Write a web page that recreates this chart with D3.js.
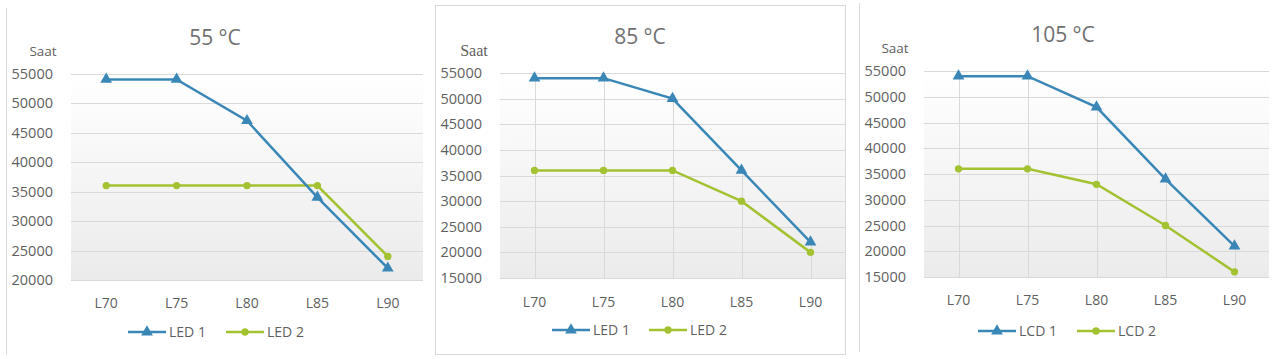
<!DOCTYPE html>
<html>
<head>
<meta charset="utf-8">
<script src="https://cdn.jsdelivr.net/npm/d3@7"></script>
<style>
  body { margin:0; background:#fff; }
  text { font-family:"Open Sans", "Noto Sans", sans-serif; fill:#5f5f5f; }
</style>
</head>
<body>
<script>
var categories = ["L70","L75","L80","L85","L90"];
var titles = ["55 °C","85 °C","105 °C"];
var seriesNames = [["LED 1","LED 2"],["LED 1","LED 2"],["LCD 1","LCD 2"]];

var led1_55  = [54000, 54000, 47000, 34000, 22000];
var led2_55  = [36000, 36000, 36000, 36000, 24000];
var led1_85  = [54000, 54000, 50000, 36000, 22000];
var led2_85  = [36000, 36000, 36000, 30000, 20000];
var led1_105 = [54000, 54000, 48000, 34000, 21000];
var led2_105 = [36000, 36000, 33000, 25000, 16000];

var ticks55  = [20000,25000,30000,35000,40000,45000,50000,55000];
var ticks85  = [15000,20000,25000,30000,35000,40000,45000,50000,55000];
var ticks105 = ticks85;

var blue = "#3a87b7", green = "#a3c232";

var svg = d3.select("body").append("svg")
  .attr("width",1272).attr("height",359);

var defs = svg.append("defs");
var grad = defs.append("linearGradient").attr("id","bg")
  .attr("x1",0).attr("y1",0).attr("x2",0).attr("y2",1);
grad.append("stop").attr("offset","0%").attr("stop-color","#ffffff");
grad.append("stop").attr("offset","100%").attr("stop-color","#ebebeb");

var panels = [
  {ox:0,   x0:71,  x1:423,  yTop:73.5, yBot:280, dom:[20000,55000], ticks:ticks55,
   s1:led1_55, s2:led2_55, title:[215,38], saat:[43,51], xlab:303, leg:332,
   legX:[128,226], drop:false},
  {ox:424, x0:500, x1:845,  yTop:73,   yBot:278, dom:[15000,55000], ticks:ticks85,
   s1:led1_85, s2:led2_85, title:[640,37], saat:[474,50], xlab:302, leg:330,
   legX:[552,649], drop:true},
  {ox:848, x0:924, x1:1269, yTop:71,   yBot:277, dom:[15000,55000], ticks:ticks105,
   s1:led1_105, s2:led2_105, title:[1063,35], saat:[895,48], xlab:300, leg:331,
   legX:[978,1077], drop:true}
];

// panel frames
svg.append("line").attr("x1",6.5).attr("x2",6.5).attr("y1",8).attr("y2",355)
  .style("stroke","#d9d9d9");
svg.append("rect").attr("x",435.5).attr("y",5.5).attr("width",410).attr("height",349)
  .style("fill","none").style("stroke","#d9d9d9");
svg.append("line").attr("x1",859.5).attr("x2",859.5).attr("y1",3).attr("y2",352)
  .style("stroke","#d9d9d9");

panels.forEach(function(p,pi){
  var x = d3.scalePoint().domain(categories).range([p.x0,p.x1]).padding(0.5);
  var y = d3.scaleLinear().domain(p.dom).range([p.yBot,p.yTop]);
  var g = svg.append("g");

  g.append("rect").attr("x",p.x0).attr("y",p.yTop)
    .attr("width",p.x1-p.x0).attr("height",p.yBot-p.yTop)
    .style("fill","url(#bg)");

  g.selectAll(".grid").data(p.ticks).enter().append("line")
    .attr("x1",p.x0).attr("x2",p.x1)
    .attr("y1",function(d){return Math.round(y(d))+0.5;})
    .attr("y2",function(d){return Math.round(y(d))+0.5;})
    .style("stroke","#d9d9d9");

  g.selectAll(".ylab").data(p.ticks).enter().append("text")
    .attr("x",p.x0-18).attr("y",function(d){return y(d);})
    .attr("dy","0.35em").style("text-anchor","end").style("font-size","14.5px")
    .text(function(d){return d;});

  g.append("text").attr("x",p.title[0]).attr("y",p.title[1]).attr("dy","0.35em")
    .style("text-anchor","middle").style("font-size","21px").style("fill","#707070")
    .text(titles[pi]);

  g.append("text").attr("x",p.saat[0]).attr("y",p.saat[1]).attr("dy","0.35em")
    .style("text-anchor","middle")
    .style("font-size", pi==1 ? "16px" : "13.5px")
    .style("font-family", pi==1 ? "Liberation Serif, serif" : null)
    .text("Saat");

  g.selectAll(".xlab").data(categories).enter().append("text")
    .attr("x",function(d){return x(d);}).attr("y",p.xlab).attr("dy","0.35em")
    .style("text-anchor","middle").style("font-size","14px")
    .text(function(d){return d;});

  if(p.drop){
    var mx = categories.map(function(c,i){return Math.max(p.s1[i],p.s2[i]);});
    g.selectAll(".drop").data(categories).enter().append("line")
      .attr("x1",function(d){return Math.round(x(d))+0.5;})
      .attr("x2",function(d){return Math.round(x(d))+0.5;})
      .attr("y1",function(d,i){return y(mx[i]);}).attr("y2",p.yBot)
      .style("stroke","#d9d9d9");
  }

  var line = d3.line()
    .x(function(d,i){return x(categories[i]);})
    .y(function(d){return y(d);});

  [[p.s2,green,"circle"],[p.s1,blue,"triangle"]].forEach(function(s){
    g.append("path").datum(s[0]).attr("d",line)
      .style("fill","none").style("stroke",s[1]).style("stroke-width",2.5);
    var sym = s[2]=="circle" ? d3.symbol().type(d3.symbolCircle).size(42)
                             : d3.symbol().type(d3.symbolTriangle).size(60);
    g.selectAll(null).data(s[0]).enter().append("path")
      .attr("d",sym)
      .attr("transform",function(d,i){return "translate("+x(categories[i])+","+y(d)+")";})
      .style("fill",s[1]);
  });

  // legend
  [[blue,"triangle"],[green,"circle"]].forEach(function(s,k){
    var lx = p.legX[k];
    g.append("line").attr("x1",lx).attr("x2",lx+38).attr("y1",p.leg).attr("y2",p.leg)
      .style("stroke",s[0]).style("stroke-width",2.5);
    var sym = s[1]=="circle" ? d3.symbol().type(d3.symbolCircle).size(42)
                             : d3.symbol().type(d3.symbolTriangle).size(60);
    g.append("path").attr("d",sym)
      .attr("transform","translate("+(lx+19)+","+p.leg+")").style("fill",s[0]);
    g.append("text").attr("x",lx+41).attr("y",p.leg).attr("dy","0.35em")
      .style("font-size","14px").text(seriesNames[pi][k]);
  });
});
</script>
</body>
</html>
